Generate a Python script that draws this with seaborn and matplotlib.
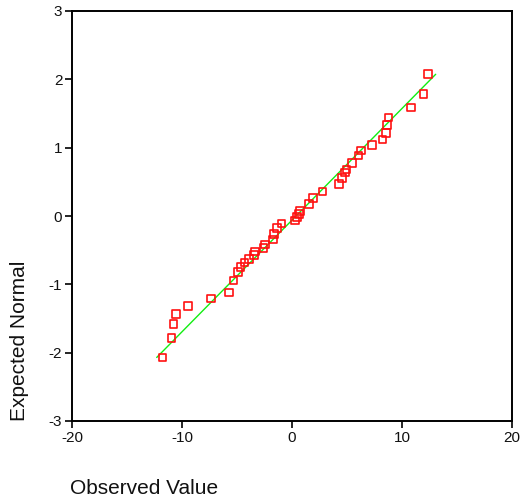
import matplotlib
matplotlib.use("Agg")
import matplotlib.pyplot as plt
import seaborn as sns
import numpy as np
import pandas as pd

observed = [-11.79, -10.94, -10.79, -10.55, -9.43, -7.36, -5.73, -5.32, -4.91, -4.68,
            -4.32, -3.91, -3.43, -3.39, -2.59, -2.45, -1.75, -1.61, -1.36, -0.95,
            0.30, 0.47, 0.66, 0.73, 1.56, 1.91, 2.79, 4.27, 4.55, 4.82,
            4.97, 5.48, 6.06, 6.30, 7.27, 8.21, 8.52, 8.64, 8.79, 10.82,
            11.94, 12.39]
expected = [-2.07, -1.785, -1.58, -1.43, -1.317, -1.21, -1.12, -0.944, -0.82, -0.746,
            -0.678, -0.629, -0.571, -0.52, -0.468, -0.417, -0.344, -0.263, -0.176, -0.107,
            -0.063, -0.015, 0.029, 0.076, 0.176, 0.263, 0.359, 0.468, 0.552, 0.634,
            0.683, 0.78, 0.888, 0.956, 1.039, 1.122, 1.219, 1.332, 1.439, 1.585,
            1.785, 2.074]

# Reference line parameters (normal fit)
line_mean = 0.37
line_sd = 6.12

x_ticks = [-20, -10, 0, 10, 20]
y_ticks = [-3, -2, -1, 0, 1, 2, 3]

df = pd.DataFrame({"Observed": observed, "Expected": expected})
ly = np.array([min(expected), max(expected)])
line_df = pd.DataFrame({"x": line_mean + ly * line_sd, "y": ly})

sns.set_theme(style="white")
plt.rcParams["font.family"] = ["Liberation Sans", "DejaVu Sans"]
plt.rcParams["axes.unicode_minus"] = False

fig = plt.figure(figsize=(5.31, 5.04), dpi=100)
ax = fig.add_axes([72/531, 83/504, 440/531, 410/504])

sns.lineplot(data=line_df, x="x", y="y", ax=ax, color="#11ee11", linewidth=1.0)
sns.scatterplot(data=df, x="Observed", y="Expected", ax=ax, marker="s", s=30,
                facecolors="none", edgecolor="#ff1010", linewidth=1.2, zorder=3)

ax.set_xlim(-20, 20)
ax.set_ylim(-3, 3)
ax.set_xticks(x_ticks)
ax.set_yticks(y_ticks)
ax.set_xticklabels([str(t) for t in x_ticks])
ax.set_yticklabels([str(t) for t in y_ticks])
ax.set_xlabel("")
ax.set_ylabel("")
ax.tick_params(axis="both", direction="out", length=5, width=1.2, color="black",
               labelsize=11, labelcolor="#111111", pad=2, left=True, bottom=True)
for sp in ax.spines.values():
    sp.set_color("black")
    sp.set_linewidth(1.4)

fig.text(70/531, 1 - 489/504, "Observed Value", ha="left", va="center",
         fontsize=15, color="#111111")
fig.text(20/531, 1 - 421/504, "Expected Normal", ha="center", va="bottom",
         rotation=90, fontsize=15, color="#111111")

fig.savefig("out.png", dpi=100)
